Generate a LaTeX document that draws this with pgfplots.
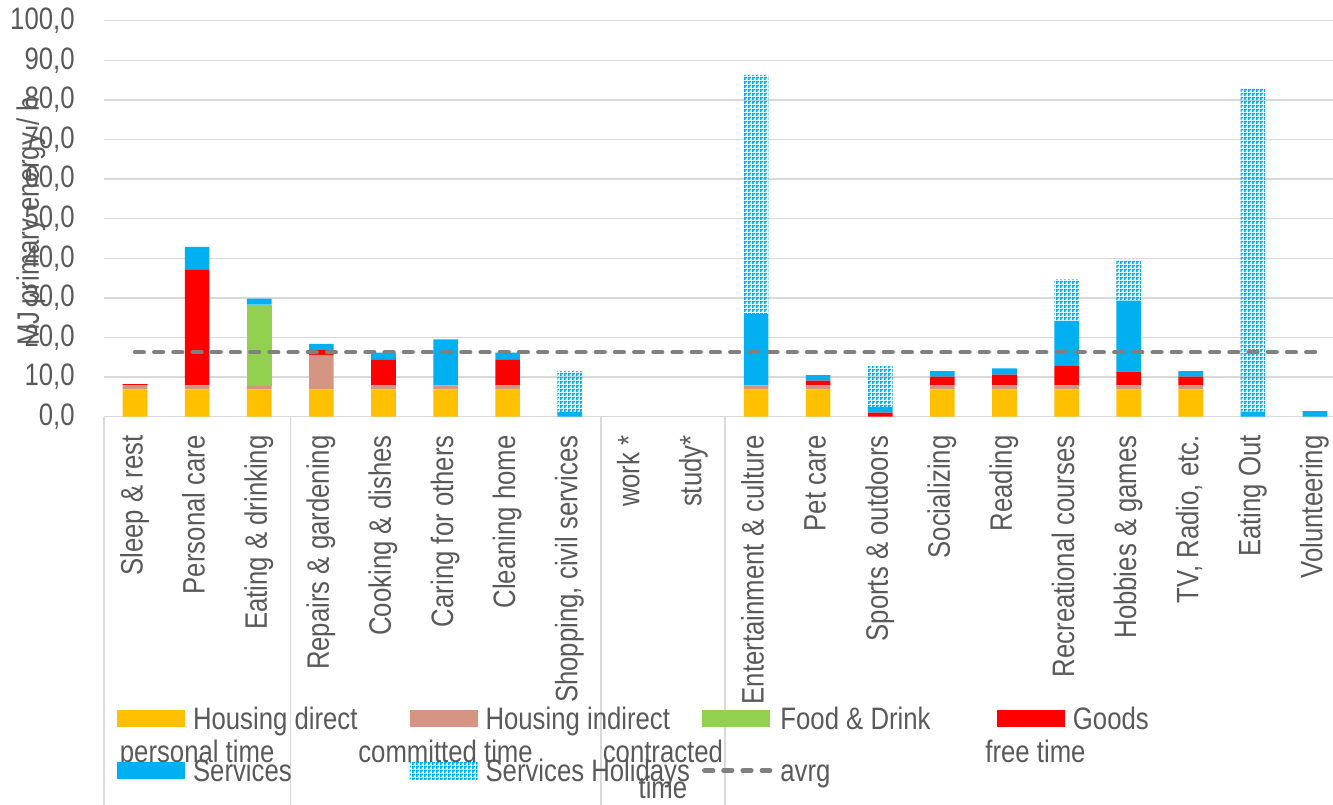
\documentclass[border=0pt]{standalone}
\usepackage{fontspec}
\setmainfont{Liberation Sans}[FakeStretch=0.83]
\usepackage{pgfplots}
\usepackage{pgfplotstable}
\pgfplotsset{compat=1.18}
\usetikzlibrary{patterns.meta}

\definecolor{hdir}{HTML}{FFC000}
\definecolor{hind}{HTML}{D49582}
\definecolor{food}{HTML}{92D050}
\definecolor{goods}{HTML}{FF0000}
\definecolor{serv}{HTML}{00B0F0}
\definecolor{avgc}{HTML}{808080}
\definecolor{txt}{HTML}{595959}
\definecolor{gridc}{HTML}{D9D9D9}

\newcommand\chartfont{\fontsize{15.5}{18}\selectfont}

% fine dotted mesh used for the holiday services
\pgfdeclarepattern{
  name=finecheck,
  type=uncolored,
  bottom left={\pgfpoint{0pt}{0pt}},
  top right={\pgfpoint{2pt}{2pt}},
  tile size={\pgfpoint{2pt}{2pt}},
  code={
    \pgfpathrectangle{\pgfpoint{0pt}{0pt}}{\pgfpoint{1pt}{1pt}}
    \pgfpathrectangle{\pgfpoint{1pt}{1pt}}{\pgfpoint{1pt}{1pt}}
    \pgfpathrectangle{\pgfpoint{0pt}{1pt}}{\pgfpoint{1pt}{1pt}}
    \pgfusepath{fill}
  }
}

% MJ primary energy per hour, by activity
\pgfplotstableread{
x  hd   hi   fd    gd    sv    sh
0  6.9  1.0  0     0.3   0     0
1  6.9  1.0  0     29.3  5.7   0
2  6.9  0.9  20.5  0     1.5   0
3  6.9  8.7  0     1.2   1.6   0
4  6.9  1.0  0     6.6   1.7   0
5  6.9  1.0  0     0     11.6  0
6  6.9  1.0  0     6.6   1.7   0
7  0    0    0     0     1.2   10.3
8  0    0    0     0     0     0
9  0    0    0     0     0     0
10 6.9  1.0  0     0     18.0  60.4
11 6.9  1.0  0     1.2   1.4   0
12 0    0    0     1.0   1.4   10.4
13 6.9  1.0  0     2.2   1.4   0
14 6.9  1.0  0     2.7   1.6   0
15 6.9  1.0  0     4.9   11.4  10.5
16 6.9  1.0  0     3.5   17.9  10.3
17 6.9  1.0  0     2.2   1.4   0
18 0    0    0     0     1.3   81.6
19 0    0    0     0     1.4   0
}\energy

\pgfplotstableread{
x  v
0  16.3
1  16.3
2  16.3
3  16.3
4  16.3
5  16.3
6  16.3
7  16.3
8  16.3
9  16.3
10 16.3
11 16.3
12 16.3
13 16.3
14 16.3
15 16.3
16 16.3
17 16.3
18 16.3
19 16.3
}\average

\pgfplotsset{
  swatch/.style={legend image code/.code={
    \fill[##1,draw=none] (0pt,-4.25pt) rectangle (34pt,4.25pt);}},
  frame/.style={scale only axis, width=621pt, height=198pt,
    xmin=-0.5, xmax=19.5, ymin=0, ymax=100,
    enlarge x limits=false, enlarge y limits=false},
}

\newcommand\entry[1]{\makebox[108.25pt][l]{#1}}

\begin{document}
\begin{tikzpicture}
\begin{axis}[
  frame,
  name=main,
  ybar stacked,
  bar width=12.3pt,
  clip=false,
  axis line style={draw=none},
  ymajorgrids,
  grid style={gridc, line width=0.75pt},
  major tick length=0pt,
  xtick={0,...,19},
  xticklabels={Sleep \& rest, Personal care, Eating \& drinking,
    Repairs \& gardening, Cooking \& dishes, Caring for others,
    Cleaning home, {Shopping, civil services}, work *, study*,
    Entertainment \& culture, Pet care, Sports \& outdoors, Socializing,
    Reading, Recreational courses, Hobbies \& games, {TV, Radio, etc.},
    Eating Out, Volunteering},
  ytick={0,10,...,100},
  tick label style={font=\chartfont, text=txt},
  xticklabel style={rotate=90, anchor=east, inner sep=0pt,
    text height=0.75em, text depth=0pt},
  xticklabel shift=9.15pt,
  yticklabel style={anchor=east, inner sep=0pt},
  yticklabel shift=14.5pt,
  /pgf/number format/fixed,
  /pgf/number format/fixed zerofill,
  /pgf/number format/precision=1,
  /pgf/number format/use comma,
  /pgf/number format/assume math mode=true,
  legend columns=4,
  legend cell align=left,
  legend style={at={(0.0105,-0.718)}, anchor=north west,
    draw=none, fill=none, inner sep=0pt, outer sep=0pt,
    font=\chartfont, text=txt, row sep=9.25pt,
    nodes={inner sep=0pt, text height=14pt, text depth=3pt},
    /tikz/every odd column/.style={column sep=4pt}},
]
\addplot[fill=hdir, draw=none, swatch] table[x=x, y=hd]{\energy};
\addlegendentry{\entry{Housing direct}}
\addplot[fill=hind, draw=none, swatch] table[x=x, y=hi]{\energy};
\addlegendentry{\entry{Housing indirect}}
\addplot[fill=food, draw=none, swatch] table[x=x, y=fd]{\energy};
\addlegendentry{\entry{Food \& Drink}}
\addplot[fill=goods, draw=none, swatch] table[x=x, y=gd]{\energy};
\addlegendentry{\entry{Goods}}
\addplot[fill=serv, draw=none, swatch] table[x=x, y=sv]{\energy};
\addlegendentry{\entry{Services}}
\addplot[pattern=finecheck, pattern color=serv, draw=none, swatch] table[x=x, y=sh]{\energy};
\addlegendentry{\entry{Services Holidays}}
\addlegendimage{legend image code/.code={
  \draw[avgc, line width=2.2pt, line cap=round, dash pattern=on 4.4pt off 5.2pt]
    (1pt,0pt) -- (34pt,0pt);}}
\addlegendentry{\entry{avrg}}

% group separators below the category axis
\pgfplotsinvokeforeach{-0.5,2.5,7.5,9.5}{
  \draw[gridc, line width=0.75pt] (axis cs:#1,0) -- ++(0pt,-194pt);
}
% group names
\path (axis cs:1,0) ++(0pt,-172.65pt)
  node[anchor=base, font=\chartfont, text=txt] {personal time};
\path (axis cs:5,0) ++(0pt,-172.65pt)
  node[anchor=base, font=\chartfont, text=txt] {committed time};
\path (axis cs:8.5,0) ++(0pt,-172.65pt)
  node[anchor=base, font=\chartfont, text=txt] {contracted};
\path (axis cs:8.5,0) ++(0pt,-190.65pt)
  node[anchor=base, font=\chartfont, text=txt] {time};
\path (axis cs:14.5,0) ++(0pt,-172.65pt)
  node[anchor=base, font=\chartfont, text=txt] {free time};
% value axis title
\path (rel axis cs:0,0.5) ++(-32.5pt,-1.4pt)
  node[rotate=90, anchor=base, font=\chartfont, text=txt] {MJ primary energy / h};
\end{axis}

% average line, drawn on top of the bars
\begin{axis}[frame, hide axis, at={(main.south west)}, anchor=south west]
\addplot[avgc, line width=2.2pt, line cap=round, dash pattern=on 4.4pt off 5.2pt]
  table[x=x, y=v]{\average};
\end{axis}

\pgfresetboundingbox
\path[use as bounding box] ([shift={(-52pt,-193.65pt)}]main.south west)
  rectangle ([shift={(614.5pt,208.35pt)}]main.south west);
\end{tikzpicture}
\end{document}
